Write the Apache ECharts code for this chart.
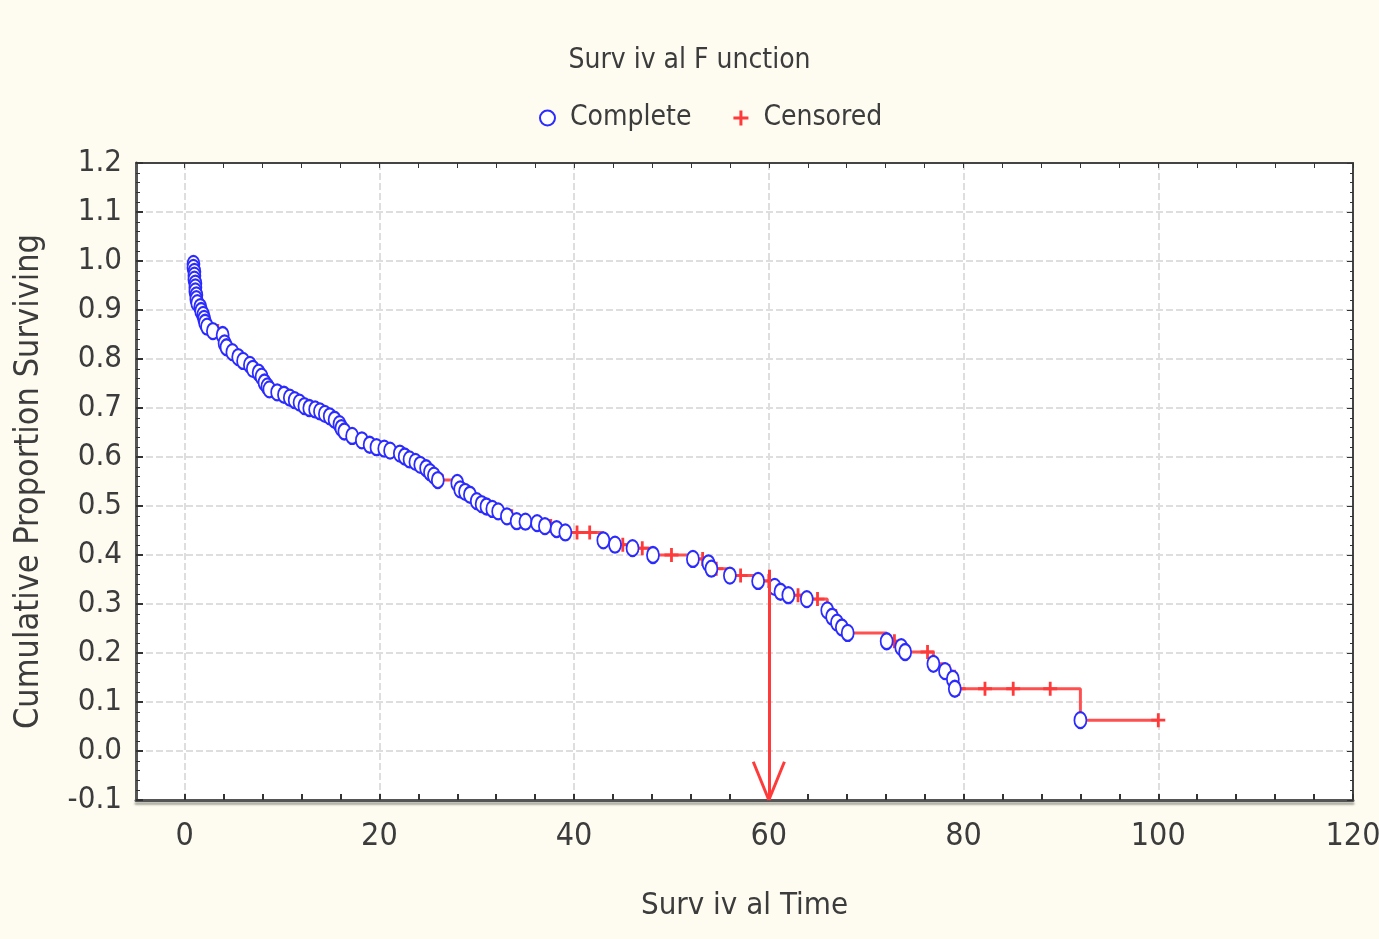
<!DOCTYPE html>
<html>
<head>
<meta charset="utf-8">
<script src="https://cdn.jsdelivr.net/npm/echarts@6/dist/echarts.min.js"></script>
<style>
html,body{margin:0;padding:0;background:#fefbf0;}
#c{width:1379px;height:939px;}
</style>
</head>
<body>
<div id="c"></div>
<script>
// ---- data ----
const titleText = 'Surv iv al F unction';
const xName = 'Surv iv al Time';
const yName = 'Cumulative Proportion Surviving';
const legendNames = ['Complete', 'Censored'];

const xLabelValues = [0, 20, 40, 60, 80, 100, 120];
const xMinorTickValues = [0,4,8,12,16,20,24,28,32,36,40,44,48,52,56,60,64,68,72,76,80,84,88,92,96,100,104,108,112,116,120];

const completeTime = [0.9,0.9,1.0,1.0,1.0,1.1,1.1,1.1,1.2,1.2,1.3,
  1.6,1.7,1.9,2.0,2.1,2.3,
  2.9,3.9,4.1,4.3,4.9,5.5,6.0,6.7,7.0,7.6,7.9,8.2,8.5,8.7,9.5,10.2,10.8,11.3,11.8,12.3,12.8,13.4,13.9,14.4,14.9,15.4,15.9,16.1,16.4,17.2,18.2,19.0,19.7,20.5,21.1,22.1,22.6,23.1,23.7,24.2,24.8,25.2,25.6,26.0,28.0,28.3,28.8,29.3,30.0,30.5,31.0,31.6,32.2,33.1,34.1,35.0,36.2,37.0,38.2,39.1,
  43.0,44.2,46.0,48.1,
  52.2,53.8,54.1,56.0,58.9,
  60.6,61.2,62.0,63.9,66.0,66.5,67.0,67.5,68.1,
  72.1,73.6,74.0,76.9,78.1,78.9,79.1,
  92.0];
const completeSurv = [0.994,0.986,0.978,0.970,0.962,0.954,0.946,0.938,0.930,0.922,0.914,
  0.906,0.898,0.890,0.882,0.874,0.866,
  0.857,0.849,0.832,0.824,0.814,0.804,0.796,0.788,0.780,0.772,0.764,0.752,0.744,0.738,0.732,0.727,0.721,0.716,0.711,0.704,0.700,0.697,0.693,0.688,0.683,0.676,0.667,0.659,0.652,0.643,0.634,0.625,0.620,0.617,0.613,0.607,0.601,0.595,0.590,0.584,0.577,0.569,0.562,0.553,0.547,0.534,0.529,0.523,0.510,0.504,0.499,0.494,0.489,0.479,0.469,0.468,0.465,0.459,0.453,0.446,
  0.430,0.421,0.414,0.400,
  0.392,0.383,0.372,0.358,0.347,
  0.335,0.325,0.318,0.310,0.287,0.274,0.262,0.252,0.241,
  0.224,0.212,0.202,0.178,0.163,0.147,0.127,
  0.063];

const censorTime = [3.4,7.3,14.0,20.8,22.9,25.9,28.6,33.6,37.6,40.3,41.6,45.0,47.0,50.0,53.2,54.6,57.1,60.0,63.0,65.0,66.3,72.9,76.3,78.5,79.5,82.2,85.1,88.9,100.0];
const censorSurv = [0.857,0.780,0.693,0.617,0.601,0.562,0.534,0.479,0.459,0.446,0.446,0.421,0.414,0.400,0.392,0.372,0.358,0.347,0.318,0.310,0.287,0.224,0.202,0.163,0.127,0.127,0.127,0.127,0.063];

const curveStart = [0.9, 1.0];
const arrowX = 60, arrowTop = 0.37, arrowTip = -0.1, arrowWingDx = 1.6, arrowWingY = -0.022;

// ---- build series data ----
const completeData = completeTime.map((t, i) => [t, completeSurv[i]]);
const censorData = censorTime.map((t, i) => [t, censorSurv[i]]);
const kmData = [curveStart].concat(completeData, censorData)
  .slice().sort((a, b) => a[0] - b[0] || b[1] - a[1]);

const FONT = '"Liberation Sans Narrow", "DejaVu Sans Condensed", "Liberation Sans", sans-serif';
const TXT = '#3c3c3c';
const BLUE = '#2b2bff';
const RED = '#ff3a3a';
const plusPath = 'path://M4,0H6V4H10V6H6V10H4V6H0V4H4Z';

const chart = echarts.init(document.getElementById('c'));
chart.setOption({
  backgroundColor: '#fefbf0',
  animation: false,
  title: {
    text: titleText, left: 'center', top: 42,
    textStyle: { fontFamily: FONT, fontSize: 28, fontWeight: 'normal', color: TXT }
  },
  legend: {
    data: [{name: legendNames[0], icon: 'emptyCircle'}, {name: legendNames[1], icon: plusPath}],
    top: 99, left: 534, itemGap: 42, itemWidth: 15, itemHeight: 16,
    itemStyle: { borderWidth: 3 },
    textStyle: { fontFamily: FONT, fontSize: 28, color: TXT, padding: [0, 0, 0, 10] }
  },
  grid: { left: 136, right: 26, top: 163, bottom: 139, backgroundColor: '#ffffff', show: true, borderWidth: 0, containLabel: false, outerBoundsMode: 'none' },
  xAxis: [
    {
      type: 'value', min: -5, max: 120, position: 'bottom',
      name: xName, nameLocation: 'middle', nameGap: 90,
      nameTextStyle: { fontFamily: FONT, fontSize: 31, color: TXT },
      axisLine: { onZero: false, lineStyle: { color: '#555', width: 3, shadowColor: 'rgba(120,120,110,0.6)', shadowOffsetY: 3, shadowBlur: 2 } },
      axisTick: { show: false, customValues: xLabelValues },
      axisLabel: { customValues: xLabelValues, margin: 21, fontFamily: FONT, fontSize: 32, color: TXT },
      splitLine: { show: true, lineStyle: { color: '#dedede', width: 2, type: [7, 3] } }
    },
    {
      type: 'value', min: -5, max: 120, position: 'bottom',
      axisLine: { show: false, onZero: false },
      axisTick: { show: true, inside: true, length: 6, customValues: xMinorTickValues, lineStyle: { color: '#333', width: 2 } },
      axisLabel: { show: false },
      splitLine: { show: false }
    },
    {
      type: 'value', min: -5, max: 120, position: 'top',
      axisLine: { onZero: false, lineStyle: { color: '#444', width: 2 } },
      axisTick: { show: true, inside: true, length: 5, customValues: xMinorTickValues, lineStyle: { color: '#333', width: 1 } },
      axisLabel: { show: false },
      splitLine: { show: false }
    }
  ],
  yAxis: [
    {
      type: 'value', min: -0.1, max: 1.2, interval: 0.1, position: 'left',
      name: yName, nameLocation: 'middle', nameGap: 90, nameRotate: 90,
      nameTextStyle: { fontFamily: FONT, fontSize: 34, color: TXT },
      axisLine: { onZero: false, lineStyle: { color: '#555', width: 3 } },
      axisTick: { show: true, inside: true, length: 7, lineStyle: { color: '#333', width: 2 } },
      minorTick: { show: true, splitNumber: 5, length: 4, lineStyle: { color: '#333', width: 1 } },
      axisLabel: { margin: 14, fontFamily: FONT, fontSize: 31, color: TXT, formatter: v => v.toFixed(1) },
      splitLine: { show: true, lineStyle: { color: '#dedede', width: 2, type: [7, 3] } }
    },
    {
      type: 'value', min: -0.1, max: 1.2, interval: 0.1, position: 'right',
      axisLine: { onZero: false, lineStyle: { color: '#444', width: 2 } },
      axisTick: { show: true, inside: true, length: 6, lineStyle: { color: '#333', width: 1 } },
      minorTick: { show: true, splitNumber: 5, length: 3, lineStyle: { color: '#333', width: 1 } },
      axisLabel: { show: false },
      splitLine: { show: false }
    }
  ],
  series: [
    {
      name: 'km', type: 'line', step: 'end', data: kmData, showSymbol: false, symbol: 'none',
      lineStyle: { color: '#ff5050', width: 3 }, z: 2, silent: true,
      markLine: {
        silent: true, symbol: 'none', label: { show: false },
        lineStyle: { color: RED, width: 3, type: 'solid' },
        data: [
          [{ coord: [arrowX, arrowTop] }, { coord: [arrowX, arrowTip] }],
          [{ coord: [arrowX - arrowWingDx, arrowWingY] }, { coord: [arrowX, arrowTip] }],
          [{ coord: [arrowX + arrowWingDx, arrowWingY] }, { coord: [arrowX, arrowTip] }]
        ]
      }
    },
    {
      name: legendNames[1], type: 'scatter', data: censorData, symbol: plusPath, symbolSize: 14,
      itemStyle: { color: RED, opacity: 1 }, z: 3
    },
    {
      name: legendNames[0], type: 'scatter', data: completeData, symbol: 'emptyCircle', symbolSize: [12, 16],
      itemStyle: { color: BLUE, borderColor: BLUE, borderWidth: 3, opacity: 1 }, z: 4
    }
  ]
});
</script>
</body>
</html>
